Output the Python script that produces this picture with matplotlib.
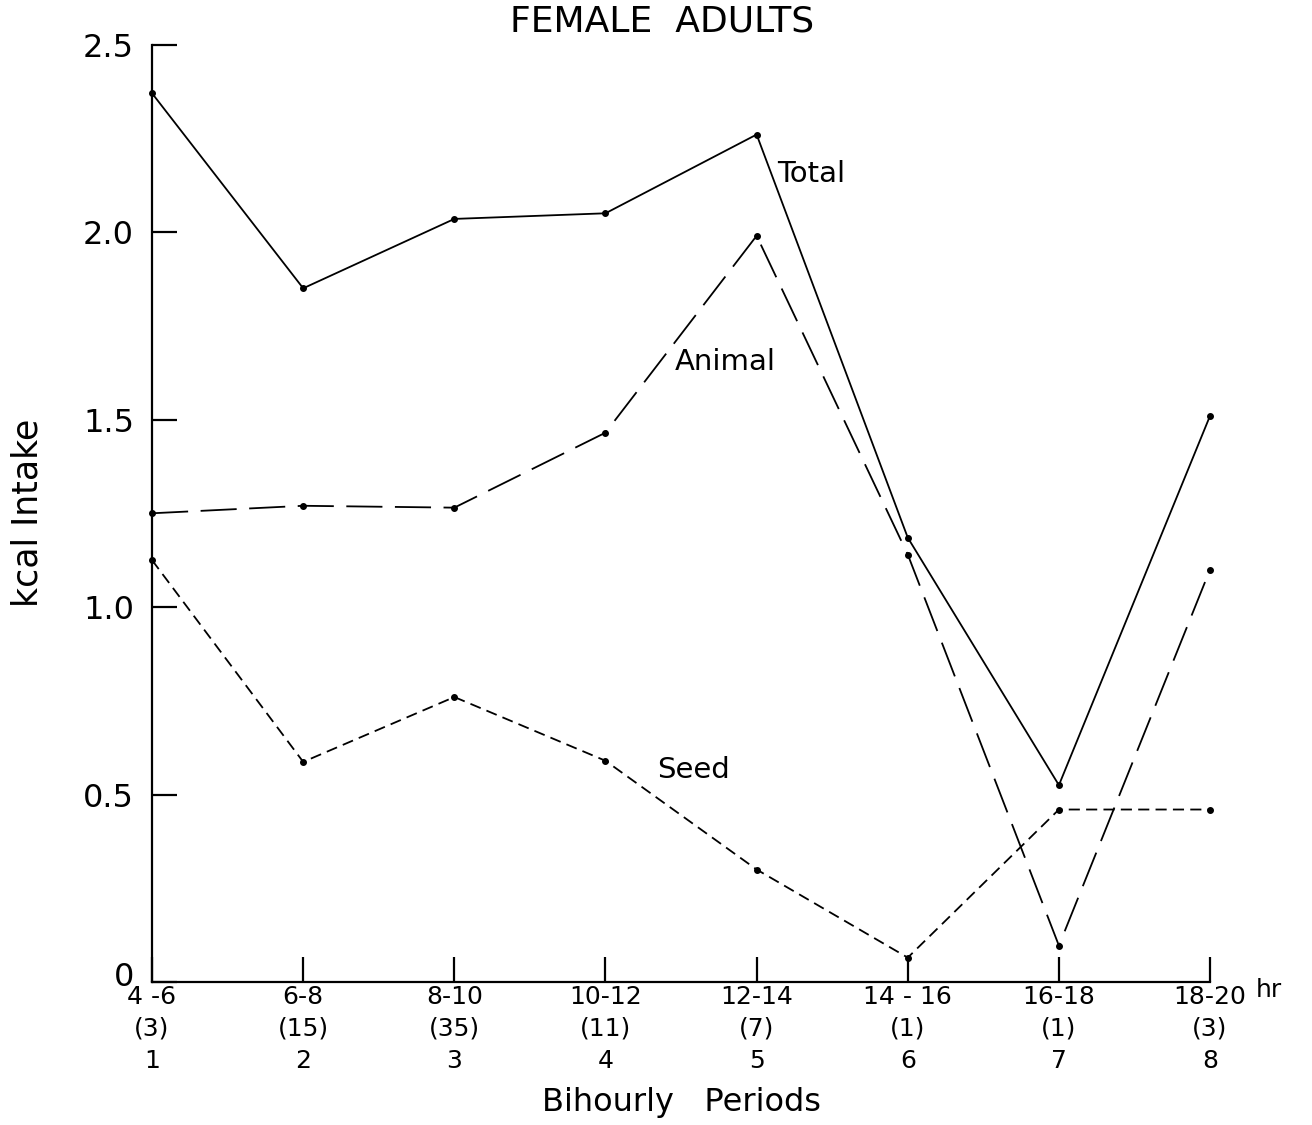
import matplotlib
matplotlib.use("Agg")
import matplotlib.pyplot as plt
from matplotlib.transforms import ScaledTranslation

plt.rcParams['font.family'] = ['DejaVu Sans']
plt.rcParams['lines.scale_dashes'] = False

# Bihourly periods and sample sizes
periods = [1, 2, 3, 4, 5, 6, 7, 8]
hours = ["4 -6", "6-8", "8-10", "10-12", "12-14", "14 - 16", "16-18", "18-20"]
counts = [3, 15, 35, 11, 7, 1, 1, 3]

# kcal intake per period
total = [2.37, 1.85, 2.035, 2.05, 2.26, 1.185, 0.525, 1.51]
animal = [1.25, 1.27, 1.265, 1.465, 1.99, 1.14, 0.097, 1.10]
seed = [1.125, 0.587, 0.76, 0.59, 0.30, 0.065, 0.46, 0.46]

yticks = [0, 0.5, 1.0, 1.5, 2.0, 2.5]
yticklabels = ["0", "0.5", "1.0", "1.5", "2.0", "2.5"]

fig = plt.figure(figsize=(13.12, 11.25), dpi=100)
ax = fig.add_axes([0.1159, 0.1271, 0.8064, 0.8333])

lw = 1.3
ax.plot(periods, total, color='black', lw=lw, ls='-', marker='o', ms=4, clip_on=False)
ax.plot(periods, animal, color='black', lw=lw, dashes=(26, 9), marker='o', ms=4, clip_on=False)
ax.plot(periods, seed, color='black', lw=lw, dashes=(8, 4.5), marker='o', ms=4, clip_on=False)

ax.set_xlim(1, 8)
ax.set_ylim(0, 2.5)

for s in ['top', 'right']:
    ax.spines[s].set_visible(False)
for s in ['left', 'bottom']:
    ax.spines[s].set_linewidth(1.6)

ax.set_yticks(yticks)
ax.set_yticklabels(yticklabels, fontsize=23)
ax.set_xticks(periods)
ax.set_xticklabels([f"{h}\n({c})\n{p}" for h, c, p in zip(hours, counts, periods)],
                   fontsize=18, linespacing=1.42)
ax.tick_params(axis='y', direction='in', length=18, width=1.6, pad=13)
ax.tick_params(axis='x', direction='in', length=18, width=1.6, pad=2)

# lift the zero label a little above the period labels
zero_lbl = ax.get_yticklabels()[0]
zero_lbl.set_transform(zero_lbl.get_transform() + ScaledTranslation(0, 6 / 72, fig.dpi_scale_trans))

fig.text(1256 / 1312, 1 - 990 / 1125, "hr", fontsize=18, ha='left', va='center')

ax.set_ylabel("kcal Intake", fontsize=25, labelpad=28)
ax.set_xlabel("Bihourly   Periods", fontsize=23, labelpad=10)
fig.text(0.505, 1 - 22 / 1125, "FEMALE  ADULTS", fontsize=26, ha='center', va='center')

ax.text(5.36, 2.155, "Total", fontsize=21, ha='center', va='center')
ax.text(4.79, 1.653, "Animal", fontsize=21, ha='center', va='center')
ax.text(4.58, 0.565, "Seed", fontsize=21, ha='center', va='center')

fig.savefig("out.png", dpi=100, facecolor='white')
